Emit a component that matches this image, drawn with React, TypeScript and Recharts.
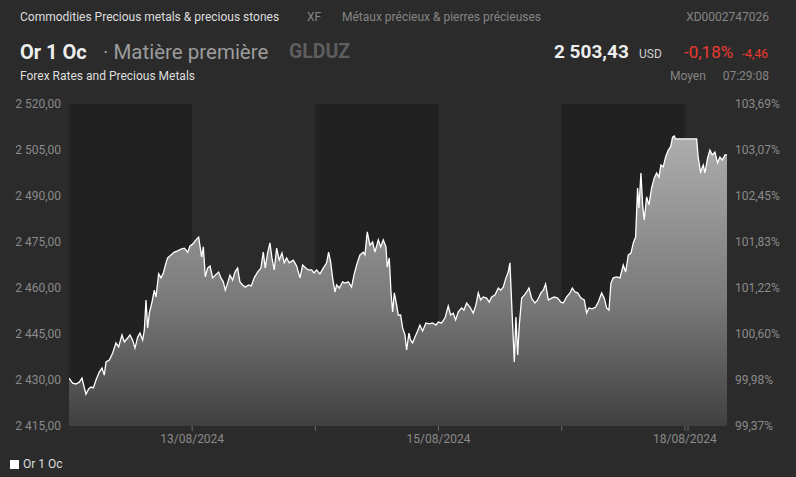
import React from 'react'
import {
  AreaChart,
  Area,
  XAxis,
  YAxis,
  ReferenceArea
} from 'recharts'

// heures depuis le 12/08 00:00 (le week-end est compressé)
const hours = [
  0, 0.71, 1.36, 2.01, 2.53, 2.99, 3.31, 3.83, 4.28, 4.74,
  5.26, 5.91, 6.43, 6.88, 7.21, 7.86, 8.51, 9.15, 9.67, 10.32,
  10.78, 11.43, 11.88, 12.4, 12.86, 13.38, 13.83, 14.35, 14.68, 15.0,
  15.32, 15.65, 16.17, 16.62, 16.95, 17.47, 17.92, 18.38, 18.9, 19.22,
  19.87, 20.52, 21.17, 21.82, 22.47, 23.12, 23.57, 24.09, 24.74, 25.26,
  25.58, 25.84, 26.17, 26.56, 27.01, 27.47, 27.99, 28.5, 29.15, 29.6,
  30.06, 30.45, 30.9, 31.36, 31.88, 32.33, 32.85, 33.3, 33.82, 34.34,
  34.99, 35.51, 36.09, 36.74, 37.39, 37.85, 38.24, 38.69, 39.15, 39.54,
  39.99, 40.45, 40.97, 41.49, 41.94, 42.39, 42.91,
  43.7, 44.35, 45.0, 45.52, 45.97, 46.62, 47.27, 47.73, 48.24, 48.89,
  49.54, 50.19, 50.58, 50.97, 51.36, 51.82, 52.14, 52.66, 53.31, 53.76,
  54.41, 55.06, 55.52, 56.04, 56.69, 57.34, 57.66, 58.11, 58.63, 59.15,
  59.61, 60.26, 60.71, 61.23, 61.75, 62.01, 62.4, 62.73, 63.05, 63.38,
  63.83, 64.15, 64.61, 65.0, 65.45, 65.78, 66.23, 66.56, 66.95, 67.4,
  67.85, 68.37, 68.89, 69.54, 70.19, 70.84, 71.49, 71.95, 72.6, 73.25,
  73.89, 74.35, 74.87, 75.32, 75.84, 76.49, 76.95, 77.47, 78.12, 78.76,
  79.28, 79.74, 80.19, 80.71, 81.36, 81.88, 82.34, 82.99, 83.63, 84.09,
  84.61, 85.13, 85.58, 85.91,
  86.37, 86.76, 87.08, 87.41, 87.73, 88.19, 88.71, 89.16, 89.62, 90.13,
  90.78, 91.3, 91.95, 92.41, 92.86, 93.38, 94.03, 94.55, 95.2, 95.85,
  96.3, 96.95, 97.6, 98.06, 98.58, 99.1, 99.75, 100.39, 100.85, 101.3,
  101.95, 102.6, 103.12, 103.77, 104.29, 104.75, 105.2, 105.59, 106.04, 106.69,
  107.34, 107.99, 108.45, 108.97, 109.49, 109.94, 110.39, 110.78, 111.04, 111.43,
  111.76, 112.08, 112.54, 112.99, 113.51, 114.03, 114.49, 114.94, 115.33, 115.78,
  116.24, 116.76, 117.21, 117.6, 117.93, 118.19, 122.28, 122.6, 123.06, 123.58,
  123.9, 124.42, 124.88, 125.33, 125.85, 126.37, 126.82, 127.28, 127.8, 128.2
]

const prices = [
  2430.6, 2429.0, 2428.7, 2429.3, 2430.6, 2427.4, 2425.4, 2427.1, 2427.7, 2427.4,
  2430.0, 2432.6, 2433.9, 2431.6, 2435.9, 2436.5, 2438.8, 2442.1, 2440.8, 2444.7,
  2442.4, 2443.7, 2444.7, 2443.0, 2440.4, 2444.0, 2445.3, 2443.0, 2446.3, 2456.1,
  2447.0, 2451.8, 2455.4, 2459.3, 2457.1, 2464.6, 2463.3, 2464.9, 2468.2, 2469.8,
  2470.8, 2471.7, 2472.1, 2472.7, 2473.0, 2471.7, 2473.7, 2474.3, 2475.7, 2476.6,
  2473.0, 2470.1, 2473.4, 2463.6, 2466.5, 2467.2, 2463.3, 2464.2, 2465.2, 2463.3,
  2462.0, 2459.3, 2461.6, 2464.2, 2462.6, 2465.2, 2466.5, 2462.0, 2461.0, 2460.3,
  2461.0, 2460.7, 2463.3, 2465.2, 2466.5, 2471.7, 2466.5, 2471.4, 2474.7, 2469.8,
  2465.9, 2473.0, 2469.1, 2471.4, 2468.2, 2469.8, 2468.2,
  2469.1, 2467.2, 2463.3, 2467.5, 2466.8, 2465.9, 2465.9, 2464.9, 2465.9, 2464.6,
  2466.5, 2468.2, 2471.7, 2468.5, 2463.3, 2458.7, 2461.0, 2460.0, 2462.0, 2461.6,
  2462.0, 2460.3, 2464.2, 2467.5, 2470.8, 2471.7, 2470.8, 2478.3, 2474.0, 2475.0,
  2471.7, 2475.7, 2473.4, 2475.7, 2473.4, 2466.8, 2469.8, 2458.7, 2452.2, 2458.4,
  2454.5, 2451.2, 2451.2, 2447.0, 2444.7, 2439.8, 2445.3, 2443.0, 2442.1, 2444.0,
  2445.7, 2447.9, 2446.0, 2448.6, 2448.3, 2448.6, 2447.9, 2448.9, 2448.6, 2450.2,
  2454.1, 2451.2, 2451.8, 2449.6, 2452.2, 2453.5, 2452.8, 2455.1, 2453.8, 2451.8,
  2454.5, 2458.4, 2456.1, 2457.1, 2456.7, 2455.4, 2457.1, 2457.7, 2460.0, 2459.3,
  2460.3, 2463.3, 2465.2, 2468.2,
  2450.2, 2435.9, 2450.5, 2438.2, 2447.9, 2456.7, 2457.7, 2458.7, 2460.0, 2456.7,
  2455.1, 2456.1, 2458.4, 2459.3, 2461.3, 2456.1, 2456.7, 2457.1, 2456.7, 2455.4,
  2455.1, 2457.1, 2458.4, 2460.0, 2458.7, 2458.4, 2456.7, 2456.1, 2451.8, 2453.5,
  2453.2, 2453.8, 2455.4, 2458.4, 2456.7, 2453.5, 2452.8, 2461.6, 2463.3, 2463.6,
  2463.3, 2467.5, 2465.2, 2470.8, 2471.4, 2474.7, 2476.6, 2492.6, 2486.1, 2497.5,
  2487.1, 2482.2, 2489.7, 2487.1, 2492.6, 2495.9, 2497.5, 2496.2, 2500.1, 2499.5,
  2502.7, 2505.0, 2506.0, 2509.2, 2509.6, 2508.6, 2508.6, 2502.4, 2497.8, 2500.1,
  2497.5, 2502.4, 2505.0, 2503.4, 2504.3, 2500.8, 2502.7, 2501.7, 2503.4, 2503.4
]

const priceTicks = [2415, 2430, 2445, 2460, 2475, 2490, 2505, 2520]
const pctLabels = ['99,37%', '99,98%', '100,60%', '101,22%', '101,83%', '102,45%', '103,07%', '103,69%']

const dayTicks = [24, 48, 72, 96, 120, 120.6]
const dayLabels = ['13/08/2024', '', '15/08/2024', '', '18/08/2024', '']

// bandes sombres (un jour sur deux)
const darkBands = [[0, 24], [48, 72], [96, 120]]

const chartData = hours.map((h, i) => ({ h, price: prices[i] }))

const fmtPrice = (v: number) => {
  const [int, dec] = v.toFixed(2).split('.')
  return int.replace(/\B(?=(\d{3})+(?!\d))/g, ' ') + ',' + dec
}

const axisTick = { fontSize: 12, fill: '#8a8a8a', fontFamily: 'Roboto' }

const txt = (extra: React.CSSProperties): React.CSSProperties => ({
  position: 'absolute',
  whiteSpace: 'nowrap',
  ...extra
})

const App = () => {
  return (
    <div
      style={{
        position: 'absolute',
        left: 0,
        top: 0,
        width: 796,
        height: 477,
        background: '#2b2b2b',
        overflow: 'hidden',
        fontFamily: 'Roboto, sans-serif'
      }}
    >
      {/* En-tête */}
      <div style={txt({ left: 20, top: 9, fontSize: 12, lineHeight: '16px', color: '#dedede' })}>
        Commodities Precious metals &amp; precious stones
      </div>
      <div style={txt({ left: 307, top: 9, fontSize: 12, lineHeight: '16px', color: '#858585' })}>XF</div>
      <div style={txt({ left: 342, top: 9, fontSize: 12, lineHeight: '16px', color: '#858585' })}>
        Métaux précieux &amp; pierres précieuses
      </div>
      <div style={txt({ right: 27, top: 9, fontSize: 12, lineHeight: '16px', color: '#858585' })}>XD0002747026</div>

      <div style={txt({ left: 20, top: 40, fontSize: 20, lineHeight: '24px', color: '#eeeeee', fontWeight: 700 })}>
        Or 1 Oc
      </div>
      <div style={txt({ left: 103, top: 40, fontSize: 20.5, lineHeight: '24px', color: '#9c9c9c' })}>
        · Matière première
      </div>
      <div style={txt({ left: 289, top: 40, fontSize: 19.5, lineHeight: '24px', color: '#5e5e5e', fontWeight: 700 })}>
        GLDUZ
      </div>

      <div style={txt({ left: 554, top: 40, fontSize: 19, lineHeight: '24px', color: '#eeeeee', fontWeight: 700 })}>
        2 503,43
      </div>
      <div style={txt({ left: 639, top: 46, fontSize: 12, lineHeight: '16px', color: '#cfcfcf' })}>USD</div>
      <div style={txt({ left: 684, top: 42, fontSize: 17, lineHeight: '20px', color: '#ec3a2e' })}>-0,18%</div>
      <div style={txt({ left: 742, top: 46, fontSize: 12, lineHeight: '16px', color: '#ec3a2e' })}>-4,46</div>

      <div style={txt({ left: 20, top: 68, fontSize: 12, lineHeight: '16px', color: '#dedede' })}>
        Forex Rates and Precious Metals
      </div>
      <div style={txt({ left: 670, top: 68, fontSize: 12, lineHeight: '16px', color: '#858585' })}>Moyen</div>
      <div style={txt({ right: 27, top: 68, fontSize: 12, lineHeight: '16px', color: '#858585' })}>07:29:08</div>

      {/* Graphique */}
      <div style={{ position: 'absolute', left: 0, top: 0 }}>
        <AreaChart
          width={796}
          height={458}
          data={chartData}
          margin={{ top: 104, right: 0, bottom: 0, left: 0 }}
        >
          <defs>
            <linearGradient id="fillGrad" gradientUnits="userSpaceOnUse" x1="0" y1="104" x2="0" y2="426">
              <stop offset="0%" stopColor="#b8b8b8" />
              <stop offset="61%" stopColor="#7a7a7a" />
              <stop offset="100%" stopColor="#404040" />
            </linearGradient>
          </defs>
          {darkBands.map(([a, b], i) => (
            <ReferenceArea
              key={`band-${i}`}
              yAxisId="left"
              x1={a}
              x2={b}
              fill="#212121"
              fillOpacity={1}
              stroke="none"
              ifOverflow="hidden"
            />
          ))}
          <XAxis
            dataKey="h"
            type="number"
            domain={[0, 128.2]}
            ticks={dayTicks}
            interval={0}
            tickFormatter={(v: number) => dayLabels[dayTicks.indexOf(v)] || ''}
            axisLine={false}
            tickLine={{ stroke: '#6a6a6a' }}
            tickSize={5}
            tickMargin={3}
            tick={axisTick}
            height={32}
            allowDataOverflow
          />
          <YAxis
            yAxisId="left"
            orientation="left"
            domain={[2415, 2520]}
            ticks={priceTicks}
            interval={0}
            tickFormatter={fmtPrice}
            axisLine={false}
            tickLine={false}
            tick={axisTick}
            width={69}
            allowDataOverflow
          />
          <YAxis
            yAxisId="right"
            orientation="right"
            domain={[2415, 2520]}
            ticks={priceTicks}
            interval={0}
            tickFormatter={(v: number) => pctLabels[priceTicks.indexOf(v)] || ''}
            axisLine={false}
            tickLine={false}
            tick={axisTick}
            width={69}
            allowDataOverflow
          />
          <Area
            yAxisId="left"
            type="linear"
            dataKey="price"
            stroke="#ffffff"
            strokeWidth={1.3}
            fill="url(#fillGrad)"
            fillOpacity={1}
            isAnimationActive={false}
            dot={false}
            activeDot={false}
          />
        </AreaChart>
      </div>

      {/* Légende */}
      <div style={{ position: 'absolute', left: 10, top: 460, width: 9, height: 9, background: '#ffffff' }} />
      <div style={txt({ left: 23, top: 456, fontSize: 12, lineHeight: '16px', color: '#dedede' })}>Or 1 Oc</div>
    </div>
  )
}

export default App
